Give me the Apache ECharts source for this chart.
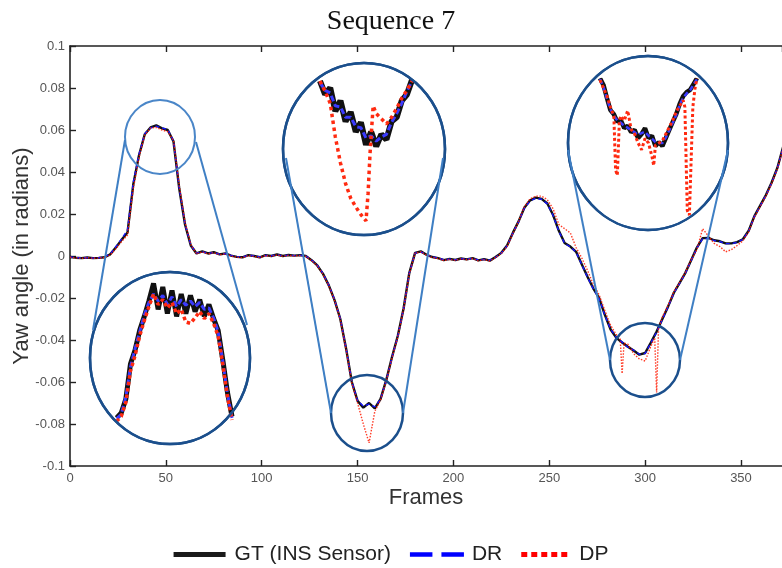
<!DOCTYPE html>
<html><head><meta charset="utf-8">
<script src="https://cdn.jsdelivr.net/npm/echarts@6/dist/echarts.min.js"></script>
<style>html,body{margin:0;padding:0;background:#fff}#c{width:782px;height:568px}</style>
</head><body><div id="c"></div>
<script>
// ---------- main plot data ----------
const frames = [
0,3,6,9,12,15,18,21,24,27,
30,33,36,39,42,45,48,51,54,57,
60,63,66,69,72,75,78,81,84,87,
90,93,96,99,102,105,108,111,114,117,
120,123,126,129,132,135,138,141,144,147,
150,153,156,159,162,165,168,171,174,177,
180,183,186,189,192,195,198,201,204,207,
210,213,216,219,222,225,228,231,234,237,
240,243,246,249,252,255,258,261,264,267,
270,273,276,279,282,285,288,291,294,297,
300,303,306,309,312,315,318,321,324,327,
330,333,336,339,342,345,348,351,354,357,
360,363,366,369,372];
const gt = [
-0.0005,-0.0008,-0.0010,-0.0007,-0.0010,-0.0009,-0.0006,0.0008,0.0042,0.0078,
0.0112,0.0340,0.0480,0.0580,0.0612,0.0622,0.0608,0.0600,0.0545,0.0320,
0.0150,0.0050,0.0012,0.0022,0.0012,0.0018,0.0008,0.0012,0.0002,-0.0004,
-0.0006,0.0004,0.0000,-0.0006,0.0004,0.0000,0.0007,0.0000,0.0005,0.0002,
0.0004,0.0000,-0.0020,-0.0045,-0.0085,-0.0140,-0.0210,-0.0300,-0.0440,-0.0600,
-0.0690,-0.0722,-0.0700,-0.0726,-0.0680,-0.0590,-0.0480,-0.0380,-0.0250,-0.0080,
0.0015,0.0022,0.0006,-0.0005,-0.0010,-0.0020,-0.0014,-0.0019,-0.0012,-0.0016,
-0.0010,-0.0021,-0.0015,-0.0022,-0.0005,0.0015,0.0050,0.0110,0.0165,0.0230,
0.0265,0.0278,0.0272,0.0250,0.0195,0.0120,0.0062,0.0045,0.0020,-0.0040,
-0.0100,-0.0155,-0.0200,-0.0280,-0.0350,-0.0390,-0.0412,-0.0432,-0.0450,-0.0470,
-0.0462,-0.0412,-0.0360,-0.0300,-0.0240,-0.0175,-0.0128,-0.0080,-0.0020,0.0040,
0.0085,0.0086,0.0075,0.0070,0.0060,0.0060,0.0066,0.0080,0.0120,0.0190,
0.0240,0.0290,0.0350,0.0420,0.0520];
const dr = [
-0.0004,-0.0008,-0.0009,-0.0008,-0.0010,-0.0008,-0.0005,0.0010,0.0045,0.0082,
0.0125,0.0350,0.0485,0.0582,0.0610,0.0618,0.0610,0.0602,0.0548,0.0322,
0.0152,0.0052,0.0014,0.0020,0.0013,0.0016,0.0009,0.0011,0.0003,-0.0003,
-0.0005,0.0003,0.0001,-0.0005,0.0003,0.0001,0.0006,0.0001,0.0004,0.0002,
0.0003,0.0000,-0.0019,-0.0044,-0.0084,-0.0138,-0.0208,-0.0298,-0.0438,-0.0598,
-0.0688,-0.0715,-0.0705,-0.0718,-0.0682,-0.0592,-0.0482,-0.0382,-0.0252,-0.0082,
0.0014,0.0020,0.0007,-0.0004,-0.0010,-0.0018,-0.0015,-0.0018,-0.0013,-0.0015,
-0.0011,-0.0019,-0.0016,-0.0020,-0.0006,0.0014,0.0048,0.0108,0.0163,0.0228,
0.0262,0.0275,0.0270,0.0248,0.0193,0.0118,0.0060,0.0044,0.0018,-0.0042,
-0.0102,-0.0157,-0.0202,-0.0282,-0.0348,-0.0388,-0.0410,-0.0435,-0.0448,-0.0468,
-0.0464,-0.0414,-0.0362,-0.0302,-0.0242,-0.0177,-0.0130,-0.0082,-0.0022,0.0038,
0.0083,0.0084,0.0074,0.0069,0.0059,0.0059,0.0065,0.0079,0.0118,0.0188,
0.0238,0.0288,0.0348,0.0418,0.0518];
const dpFrames = [
0,3,6,9,12,15,18,21,24,27,
30,33,36,39,42,45,48,51,54,57,
60,63,66,69,72,75,78,81,84,87,
90,93,96,99,102,105,108,111,114,117,
120,123,126,129,132,135,138,141,144,147,
150,153,156,159,162,165,168,171,174,177,
180,183,186,189,192,195,198,201,204,207,
210,213,216,219,222,225,228,231,234,237,
240,243,246,249,252,255,258,261,264,267,
270,273,276,279,282,285,287,288,289,291,294,297,
300,303,305,306,307,309,312,315,318,321,324,327,
330,333,336,339,342,345,348,351,354,357,
360,363,366,369,372];
const dp = [
-0.0006,-0.0009,-0.0011,-0.0008,-0.0011,-0.0010,-0.0007,0.0005,0.0035,0.0070,
0.0100,0.0320,0.0470,0.0575,0.0610,0.0612,0.0600,0.0592,0.0550,0.0335,
0.0160,0.0055,0.0010,0.0020,0.0010,0.0016,0.0006,0.0010,0.0000,-0.0006,
-0.0008,0.0002,-0.0002,-0.0008,0.0002,-0.0002,0.0005,-0.0002,0.0003,0.0000,
0.0002,-0.0002,-0.0022,-0.0047,-0.0088,-0.0142,-0.0212,-0.0302,-0.0445,-0.0605,
-0.0700,-0.0800,-0.0890,-0.0740,-0.0685,-0.0595,-0.0485,-0.0385,-0.0255,-0.0085,
0.0013,0.0020,0.0004,-0.0007,-0.0012,-0.0022,-0.0016,-0.0021,-0.0014,-0.0018,
-0.0012,-0.0023,-0.0017,-0.0024,-0.0007,0.0012,0.0046,0.0106,0.0165,0.0235,
0.0272,0.0285,0.0285,0.0268,0.0225,0.0150,0.0130,0.0110,0.0040,-0.0010,
-0.0070,-0.0135,-0.0185,-0.0260,-0.0330,-0.0375,-0.0395,-0.0560,-0.0415,-0.0420,-0.0465,-0.0490,
-0.0500,-0.0430,-0.0390,-0.0650,-0.0345,-0.0290,-0.0235,-0.0170,-0.0125,-0.0078,-0.0018,0.0030,
0.0130,0.0095,0.0060,0.0045,0.0020,0.0030,0.0050,0.0072,0.0115,0.0185,
0.0235,0.0285,0.0345,0.0415,0.0515];

// ---------- magnified insets ----------
const in1Frames = [37,38,39,40,41,42,43,44,45,46,47,48,49,50,51,52,53,54,55,56,57,58,59,60,61,62];
const in1Gt = [0.0463,0.0470,0.0490,0.0540,0.0560,0.0588,0.0608,0.0630,0.0655,0.0618,0.0650,0.0612,0.0645,0.0608,0.0640,0.0612,0.0638,0.0615,0.0632,0.0608,0.0625,0.0605,0.0588,0.0546,0.0500,0.0465];
const in1Dr = [0.0462,0.0468,0.0493,0.0536,0.0562,0.0586,0.0610,0.0628,0.0640,0.0630,0.0638,0.0625,0.0636,0.0622,0.0632,0.0624,0.0630,0.0622,0.0628,0.0618,0.0620,0.0606,0.0586,0.0544,0.0498,0.0463];
const in1Dp = [0.0458,0.0465,0.0485,0.0530,0.0552,0.0580,0.0602,0.0622,0.0640,0.0625,0.0632,0.0620,0.0628,0.0612,0.0618,0.0600,0.0598,0.0606,0.0615,0.0605,0.0612,0.0598,0.0580,0.0540,0.0494,0.0460];

const in2Frames = [146,147,148,149,150,151,152,153,154,155,156,157,158,159,160,161,162,163,164];
const in2Gt = [-0.0642,-0.0668,-0.0655,-0.0700,-0.0680,-0.0720,-0.0702,-0.0740,-0.0722,-0.0765,-0.0740,-0.0768,-0.0745,-0.0755,-0.0720,-0.0712,-0.0680,-0.0668,-0.0640];
const in2Dr = [-0.0645,-0.0660,-0.0665,-0.0690,-0.0692,-0.0712,-0.0712,-0.0730,-0.0732,-0.0752,-0.0748,-0.0758,-0.0750,-0.0745,-0.0722,-0.0705,-0.0685,-0.0662,-0.0642];
const in2DpFrames = [146,147,148,149,150,151,152,153,154,155,155.4,155.8,156.4,157,158,159,160,161,162,163,164];
const in2Dp = [-0.0642,-0.0662,-0.0685,-0.0750,-0.0800,-0.0840,-0.0868,-0.0885,-0.0900,-0.0912,-0.0860,-0.0780,-0.0690,-0.0705,-0.0715,-0.0725,-0.0712,-0.0695,-0.0675,-0.0660,-0.0642];

const in3Frames = [284,285,286,287,288,289,290,291,292,293,294,295,296,297,298,299,300,301,302,303,304,305,306,307,308,309,310,311,312];
const in3Gt = [-0.0356,-0.0371,-0.0400,-0.0427,-0.0436,-0.0453,-0.0449,-0.0467,-0.0462,-0.0476,-0.0471,-0.0489,-0.0480,-0.0467,-0.0489,-0.0484,-0.0507,-0.0498,-0.0507,-0.0489,-0.0471,-0.0453,-0.0436,-0.0413,-0.0396,-0.0387,-0.0382,-0.0369,-0.0356];
const in3Dr = [-0.0358,-0.0375,-0.0402,-0.0425,-0.0440,-0.0450,-0.0455,-0.0462,-0.0466,-0.0472,-0.0476,-0.0482,-0.0478,-0.0475,-0.0484,-0.0490,-0.0498,-0.0500,-0.0500,-0.0488,-0.0472,-0.0455,-0.0438,-0.0415,-0.0400,-0.0390,-0.0383,-0.0370,-0.0358];
const in3DpFrames = [284,285,286,287,288,288.5,289,289.6,290,291,292,293,294,295,296,297,298,299,299.5,300,301,302,303,304,305,306,307,308,308.5,309.2,309.8,310.8,311.4,312];
const in3Dp = [-0.0360,-0.0378,-0.0395,-0.0420,-0.0440,-0.0560,-0.0572,-0.0450,-0.0440,-0.0450,-0.0428,-0.0470,-0.0480,-0.0500,-0.0515,-0.0490,-0.0500,-0.0530,-0.0550,-0.0505,-0.0500,-0.0495,-0.0480,-0.0465,-0.0450,-0.0430,-0.0418,-0.0405,-0.0420,-0.0650,-0.0660,-0.0420,-0.0380,-0.0356];

const seriesNames = ['GT (INS Sensor)', 'DR', 'DP'];
const xTickValues = [0, 50, 100, 150, 200, 250, 300, 350];
const yTickValues = [-0.1, -0.08, -0.06, -0.04, -0.02, 0, 0.02, 0.04, 0.06, 0.08, 0.1];

const zip = (xs, ys) => xs.map((x, i) => [x, ys[i]]);
const FONT = 'Liberation Sans';
const GT_C = '#111111', DR_C = '#1414ff', DP_C = '#ff1a00';

function mk(name, data, xi, yi, style, z) {
  return { name, type: 'line', data, xAxisIndex: xi, yAxisIndex: yi, symbol: 'none',
    lineStyle: style, itemStyle: { color: style.color }, z, silent: true, clip: true };
}

const series = [
  mk(seriesNames[0], zip(frames, gt), 0, 0, { color: GT_C, width: 2.4 }, 2),
  mk(seriesNames[1], zip(frames, dr), 0, 0, { color: DR_C, width: 1.4, type: [4, 3] }, 2),
  mk(seriesNames[2], zip(dpFrames, dp), 0, 0, { color: DP_C, width: 1.4, type: [1.5, 1.5], opacity: 0.85 }, 2),
  mk(seriesNames[0], zip(in1Frames, in1Gt), 2, 1, { color: GT_C, width: 5 }, 5),
  mk(seriesNames[1], zip(in1Frames, in1Dr), 2, 1, { color: '#3a3aff', width: 3, type: [6, 3] }, 5),
  mk(seriesNames[2], zip(in1Frames, in1Dp), 2, 1, { color: '#ff2a10', width: 3.5, type: [3.5, 3] }, 5),
  mk(seriesNames[0], zip(in2Frames, in2Gt), 3, 2, { color: GT_C, width: 6 }, 5),
  mk(seriesNames[1], zip(in2Frames, in2Dr), 3, 2, { color: '#3a3aff', width: 3, type: [6, 3] }, 5),
  mk(seriesNames[2], zip(in2DpFrames, in2Dp), 3, 2, { color: '#ff2a10', width: 3.5, type: [3.5, 3.5] }, 5),
  mk(seriesNames[0], zip(in3Frames, in3Gt), 4, 3, { color: GT_C, width: 4.5 }, 5),
  mk(seriesNames[1], zip(in3Frames, in3Dr), 4, 3, { color: '#3a3aff', width: 2.5, type: [5, 3] }, 5),
  mk(seriesNames[2], zip(in3DpFrames, in3Dp), 4, 3, { color: '#ff2a10', width: 3, type: [3, 2.5] }, 5)
];

const axisCol = '#222';
const hiddenX = (g, min, max) => ({ gridIndex: g, type: 'value', min, max, show: false });
const hiddenY = (g, min, max) => ({ gridIndex: g, type: 'value', min, max, show: false });

const NAVY = '#1b4f8c', LIGHT = '#4a86c8';
const ell = (cx, cy, rx, ry, stroke, lw, fill, z) => ({ type: 'ellipse', silent: true, z,
  shape: { cx, cy, rx, ry }, style: { fill: fill || 'none', stroke, lineWidth: lw } });
const seg = (x1, y1, x2, y2) => ({ type: 'line', silent: true, z: 10,
  shape: { x1, y1, x2, y2 }, style: { stroke: '#3f7fc4', lineWidth: 2 } });

// legend icons (pure shapes, scaled by the legend to itemWidth x itemHeight)
const ICON_SOLID = 'path://M0,0H52V5H0Z';
const ICON_DASH = 'path://M0,0H25V5H0Z M35,0H60V5H35Z';
const ICON_DOT = 'path://M0,0H6V5H0Z M10,0H16V5H10Z M20,0H26V5H20Z M30,0H36V5H30Z M40,0H46V5H40Z';

const option = {
  animation: false,
  backgroundColor: '#ffffff',
  title: { text: 'Sequence 7', left: 'center', top: 3,
    textStyle: { fontFamily: 'Liberation Serif', fontSize: 28, fontWeight: 'normal', color: '#111' } },
  legend: {
    left: 'center', top: 539, itemWidth: 54, itemHeight: 5, itemGap: 19,
    textStyle: { fontFamily: FONT, fontSize: 21, color: '#222', padding: [0, 0, 0, 3] },
    data: [
      { name: seriesNames[0], icon: ICON_SOLID, itemStyle: { color: '#1a1a1a' } },
      { name: seriesNames[1], icon: ICON_DASH, itemStyle: { color: '#0000ff' } },
      { name: seriesNames[2], icon: ICON_DOT, itemStyle: { color: '#ff0000' } }
    ]
  },
  grid: [
    { left: 70, top: 46, width: 712, height: 420, outerBoundsMode: 'none', containLabel: false },
    { left: 112, top: 280, width: 120, height: 140, outerBoundsMode: 'none' },
    { left: 320, top: 80, width: 92, height: 145, outerBoundsMode: 'none' },
    { left: 600, top: 80, width: 97, height: 135, outerBoundsMode: 'none' }
  ],
  xAxis: [
    { gridIndex: 0, type: 'value', min: 0, max: 371.4, interval: 50,
      axisLine: { onZero: false, lineStyle: { color: axisCol, width: 1.6 } },
      axisTick: { inside: true, length: 6, lineStyle: { color: axisCol, width: 1.4 } },
      axisLabel: { margin: 6, fontFamily: FONT, fontSize: 13, color: '#555', showMaxLabel: false,
        formatter: v => xTickValues.includes(v) ? String(v) : '' },
      splitLine: { show: false },
      name: 'Frames', nameLocation: 'middle', nameGap: 21, nameMoveOverlap: false,
      nameTextStyle: { fontFamily: FONT, fontSize: 22, color: '#333' } },
    { gridIndex: 0, type: 'value', min: 0, max: 371.4, interval: 50, position: 'top',
      axisLine: { onZero: false, lineStyle: { color: axisCol, width: 1.6 } },
      axisTick: { inside: true, length: 6, lineStyle: { color: axisCol, width: 1.4 } },
      axisLabel: { show: false }, splitLine: { show: false } },
    hiddenX(1, 36, 62),
    hiddenX(2, 146, 164),
    hiddenX(3, 284, 312)
  ],
  yAxis: [
    { gridIndex: 0, type: 'value', min: -0.1, max: 0.1, interval: 0.02,
      axisLine: { show: true, onZero: false, lineStyle: { color: axisCol, width: 1.6 } },
      axisTick: { show: true, inside: true, length: 6, lineStyle: { color: axisCol, width: 1.4 } },
      axisLabel: { margin: 5, fontFamily: FONT, fontSize: 13, color: '#555',
        formatter: v => { const r = +(+v).toFixed(2); const m = yTickValues.find(t => Math.abs(t - r) < 1e-9); return m === undefined ? '' : String(m === 0 ? 0 : m); } },
      splitLine: { show: false },
      name: 'Yaw angle (in radians)', nameLocation: 'middle', nameGap: 37, nameMoveOverlap: false,
      nameTextStyle: { fontFamily: FONT, fontSize: 22, color: '#333' } },
    hiddenY(1, 0.046, 0.066),
    hiddenY(2, -0.092, -0.064),
    hiddenY(3, -0.066, -0.036)
  ],
  graphic: { elements: [
    ell(170, 358, 80, 86, NAVY, 2.5, '#ffffff', 3),
    ell(364, 149, 81, 86, NAVY, 2.5, '#ffffff', 3),
    ell(648, 143, 80, 87, NAVY, 2.5, '#ffffff', 3),
    ell(170, 358, 80, 86, NAVY, 2.5, null, 10),
    ell(364, 149, 81, 86, NAVY, 2.5, null, 10),
    ell(648, 143, 80, 87, NAVY, 2.5, null, 10),
    ell(160, 137, 35, 37, LIGHT, 2, null, 10),
    ell(367, 413, 36, 38, NAVY, 2.5, null, 10),
    ell(645, 360, 35, 37, NAVY, 2.5, null, 10),
    seg(125, 140, 93, 330), seg(196, 142, 247, 325),
    seg(286, 158, 331, 413), seg(443, 158, 403, 413),
    seg(568, 150, 610, 360), seg(728, 150, 680, 360)
  ] },
  series
};

const chart = echarts.init(document.getElementById('c'), null, { renderer: 'canvas' });
chart.setOption(option);
</script></body></html>
